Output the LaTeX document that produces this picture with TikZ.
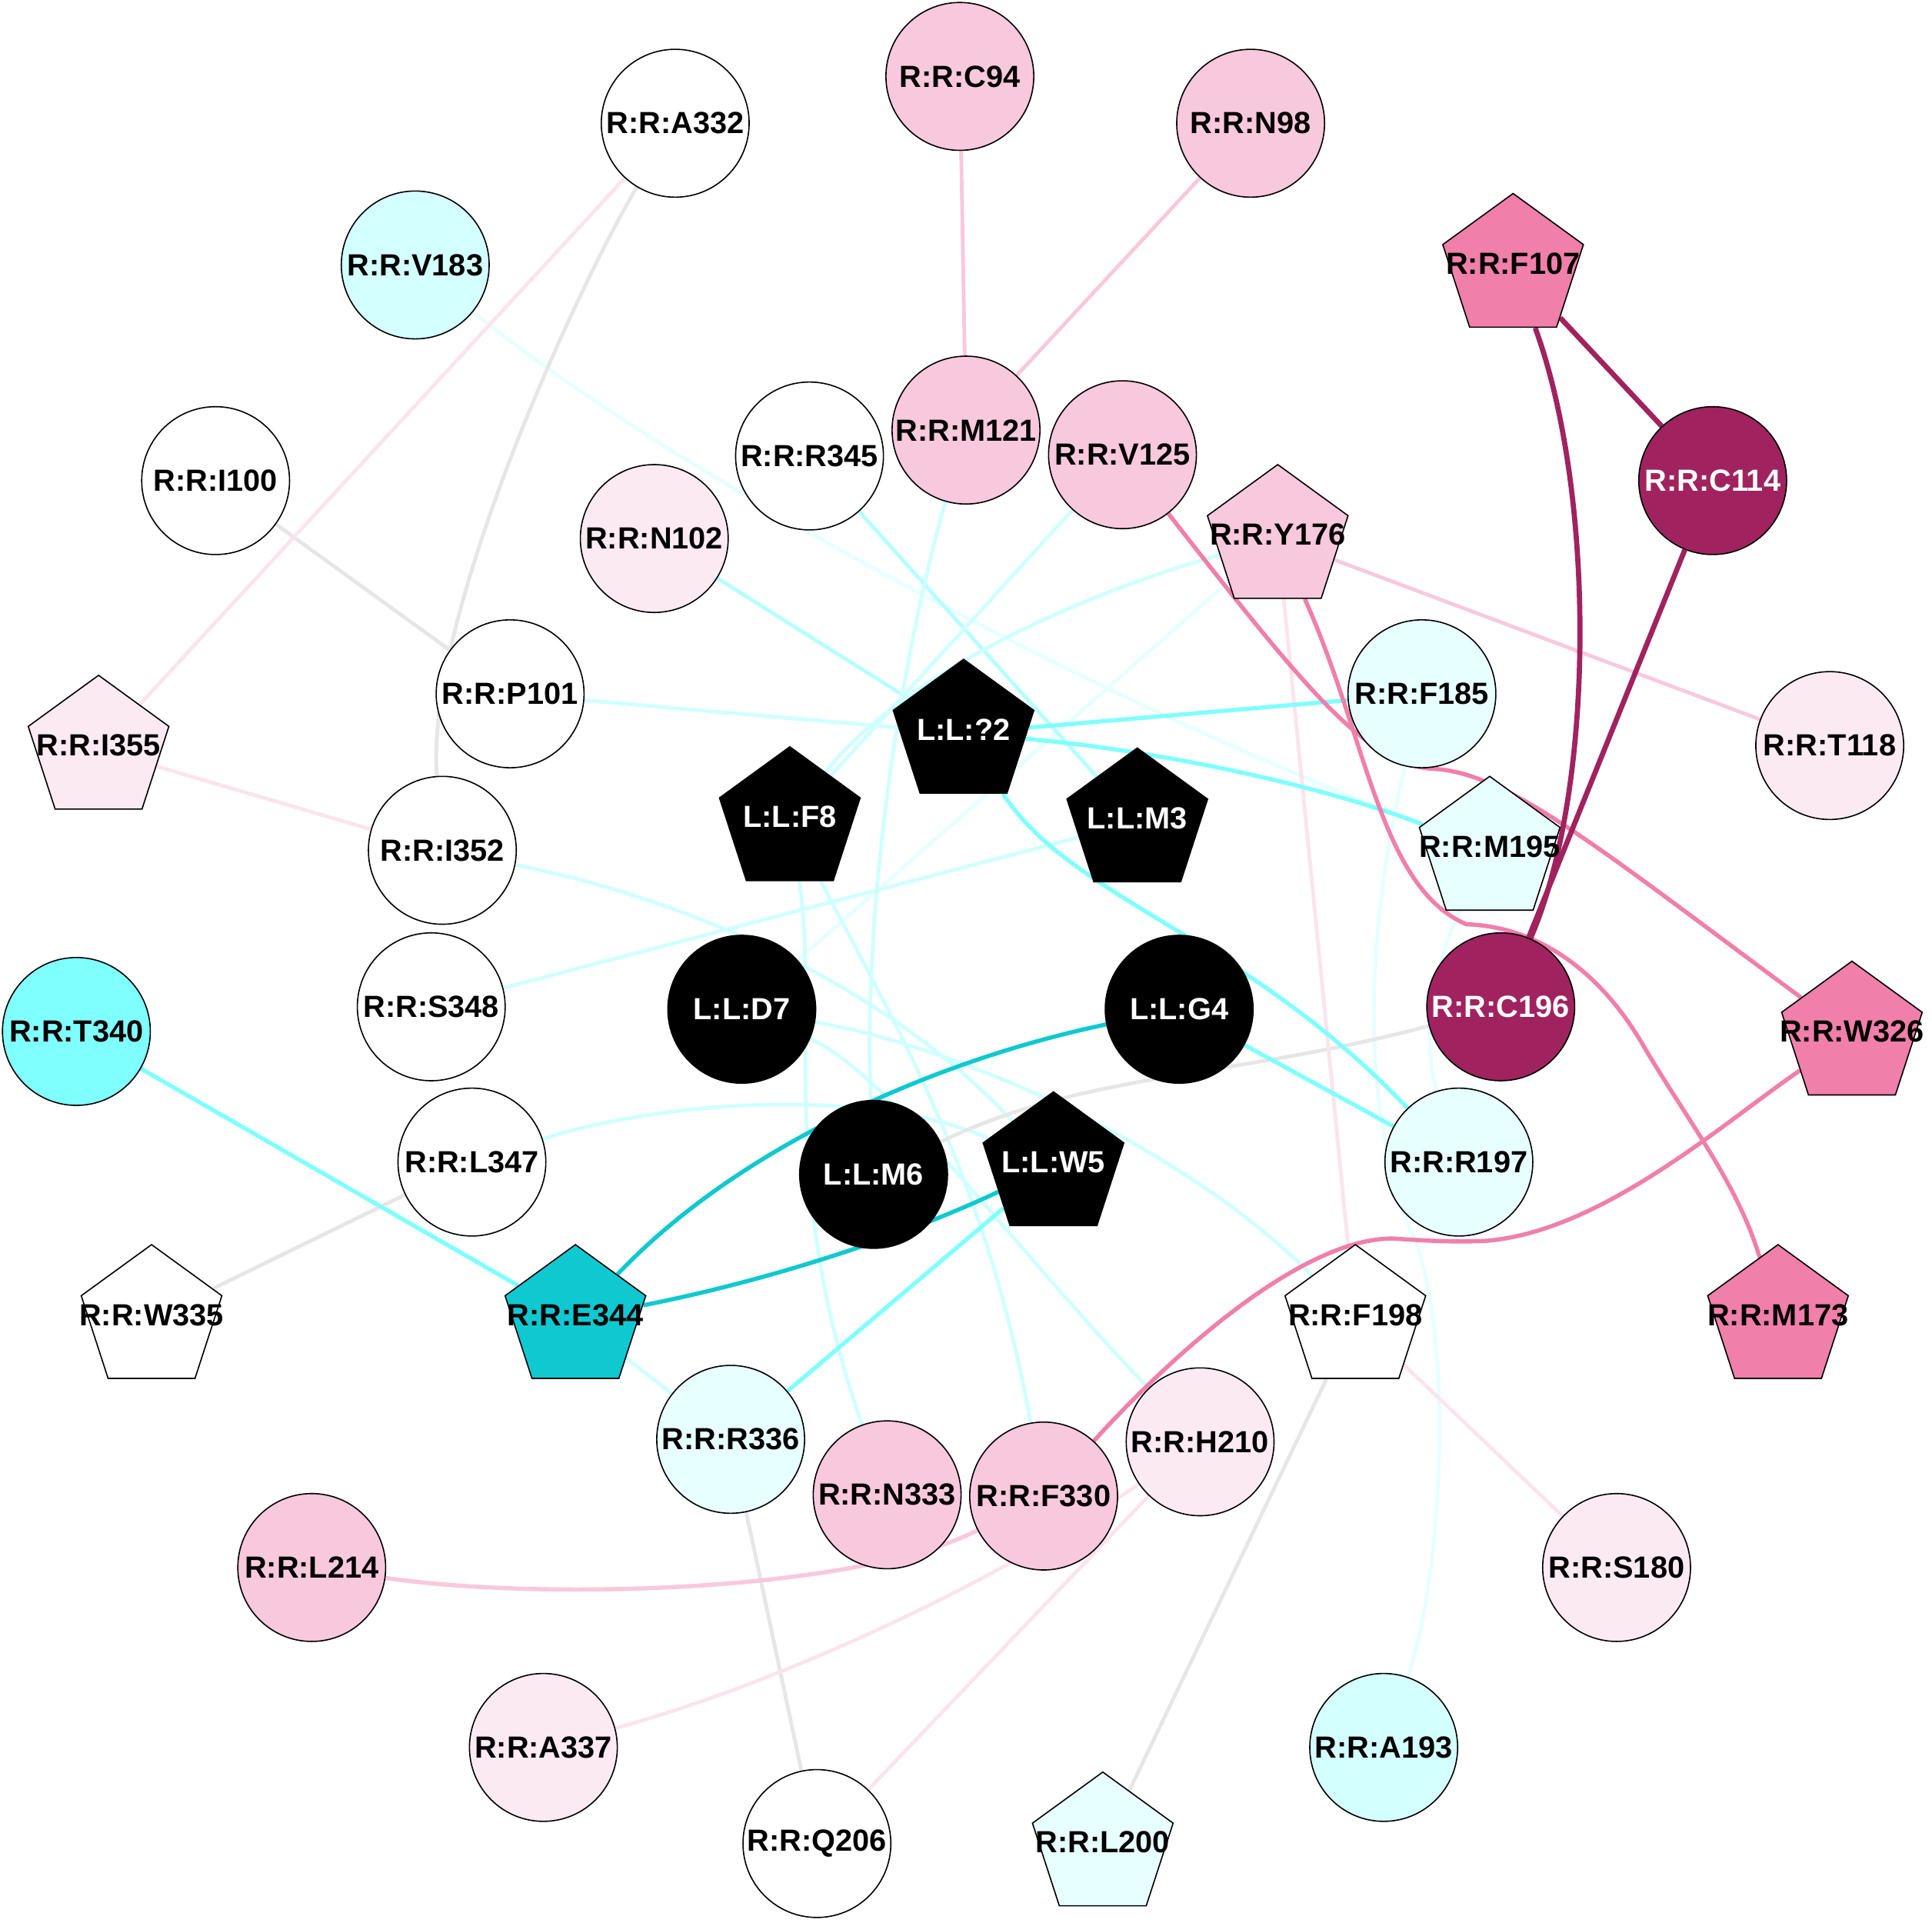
\documentclass[tikz,border=0pt]{standalone}
\usepackage{fontspec}
\setmainfont{Liberation Sans}
\usetikzlibrary{shapes.geometric}
\pgfdeclarelayer{back}
\pgfdeclarelayer{bg}
\pgfsetlayers{back,bg,main}
\definecolor{cPk}{HTML}{F8C8DC}
\definecolor{cVp}{HTML}{FBEAF2}
\definecolor{cHp}{HTML}{F07FAA}
\definecolor{cDm}{HTML}{A0235F}
\definecolor{cLc}{HTML}{D4FFFF}
\definecolor{cVc}{HTML}{E8FFFF}
\definecolor{cCy}{HTML}{80FFFF}
\definecolor{cDc}{HTML}{10C8D0}
\definecolor{cGy}{HTML}{E6E6E6}
\definecolor{ePl}{HTML}{FBE4EE}
\definecolor{eLc}{HTML}{D0FFFF}
\definecolor{eMc}{HTML}{B4FFFF}
\definecolor{eVc}{HTML}{E6FFFF}
\newcommand{\Cn}[5]{\node[nd,fill=#4] (#1) at (#3) {};\node[lbl,#5] (#1t) at (#1.center) {#2};}
\newcommand{\Pn}[5]{\node[pent,fill=#4] (#1) at (#3) {};\node[lbl,#5] (#1t) at ([yshift=1.5pt]#1.center) {#2};}
\begin{document}
\begin{tikzpicture}[x=0.5pt,y=-0.5pt,
  nd/.style={circle,draw=black,line width=0.5pt,minimum size=60pt,inner sep=0pt},
  pent/.style={regular polygon,regular polygon sides=5,draw=black,line width=0.5pt,minimum size=60pt,inner sep=0pt},
  lbl/.style={font=\fontsize{12.4pt}{14pt}\selectfont\bfseries,text=black,inner sep=0pt},
  wt/.style={text=white},
  e/.style={line width=1.5pt},
  es/.style={line width=1.7pt},
  e2/.style={line width=2.1pt}]
\useasboundingbox (0,0) rectangle (1568,1560);
\begin{pgfonlayer}{back}
\fill[white] (0,0) rectangle (1568,1560);
\end{pgfonlayer}
% nodes
\Cn{A332}{R:R:A332}{548,100}{white}{}
\Cn{C94}{R:R:C94}{779,62}{cPk}{}
\Cn{N98}{R:R:N98}{1015,100}{cPk}{}
\Cn{V183}{R:R:V183}{337,215}{cLc}{}
\Pn{F107}{R:R:F107}{1228,217}{cHp}{}
\Cn{I100}{R:R:I100}{175,390}{white}{}
\Cn{R345}{R:R:R345}{657,370}{white}{}
\Cn{M121}{R:R:M121}{784,349}{cPk}{}
\Cn{V125}{R:R:V125}{911,369}{cPk}{}
\Cn{C114}{R:R:C114}{1390,390}{cDm}{wt}
\Cn{N102}{R:R:N102}{531,437}{cVp}{}
\Pn{Y176}{R:R:Y176}{1037,437}{cPk}{}
\Cn{P101}{R:R:P101}{414,563}{white}{}
\Cn{F185}{R:R:F185}{1154,563}{cVc}{}
\Cn{T118}{R:R:T118}{1485,605}{cVp}{}
\Pn{I355}{R:R:I355}{80,608}{cVp}{}
\Pn{Q2}{L:L:?2}{782,595}{black}{wt}
\Pn{F8}{L:L:F8}{641,666}{black}{wt}
\Pn{M3}{L:L:M3}{923,667}{black}{wt}
\Cn{I352}{R:R:I352}{359,690}{white}{}
\Pn{M195}{R:R:M195}{1209,690}{cVc}{}
\Cn{S348}{R:R:S348}{350,817}{white}{}
\Cn{D7}{L:L:D7}{602,819}{black}{wt}
\Cn{G4}{L:L:G4}{957,819}{black}{wt}
\Cn{C196}{R:R:C196}{1218,817}{cDm}{wt}
\Pn{W326}{R:R:W326}{1503,840}{cHp}{}
\Cn{T340}{R:R:T340}{62,837}{cCy}{}
\Cn{L347}{R:R:L347}{383,943}{white}{}
\Cn{M6}{L:L:M6}{709,953}{black}{wt}
\Pn{W5}{L:L:W5}{855,946}{black}{wt}
\Cn{R197}{R:R:R197}{1184,943}{cVc}{}
\Pn{W335}{R:R:W335}{123,1070}{white}{}
\Pn{E344}{R:R:E344}{467,1070}{cDc}{}
\Pn{F198}{R:R:F198}{1100,1070}{white}{}
\Pn{M173}{R:R:M173}{1443,1070}{cHp}{}
\Cn{R336}{R:R:R336}{593,1168}{cVc}{}
\Cn{N333}{R:R:N333}{720,1213}{cPk}{}
\Cn{F330}{R:R:F330}{847,1214}{cPk}{}
\Cn{H210}{R:R:H210}{974,1170}{cVp}{}
\Cn{L214}{R:R:L214}{253,1272}{cPk}{}
\Cn{S180}{R:R:S180}{1312,1272}{cVp}{}
\Cn{A337}{R:R:A337}{441,1418}{cVp}{}
\Cn{Q206}{R:R:Q206}{663,1496}{white}{}
\Pn{L200}{R:R:L200}{895,1498}{cVc}{}
\Cn{A193}{R:R:A193}{1123,1418}{cLc}{}
% edges
\begin{pgfonlayer}{bg}
% very light cyan
\draw[e,eVc] (V183) .. controls (540,380) and (880,565) .. (M195);
\draw[e,eVc] (F185) .. controls (1110,750) and (1100,900) .. (1150,1010) .. controls (1180,1100) and (1170,1280) .. (A193);
\draw[e,eVc] (M195) .. controls (1160,790) and (1155,850) .. (R197);
\draw[e,eVc] (Y176) -- (D7);
% light cyan
\draw[e,eMc] (N102) -- (Q2);
\draw[e,eLc] (P101) -- (Q2);
\draw[e,eMc] (R345) -- (M3);
\draw[e,eLc] (S348) -- (M3);
\draw[e,eLc] (M121) .. controls (735,520) and (700,720) .. (M6);
\draw[e,eLc] (V125) -- (F8);
\draw[e,eLc] (Y176) .. controls (850,490) and (720,560) .. (F8);
\draw[e,eLc] (I352) .. controls (560,730) and (720,800) .. (W5);
\draw[e,eLc] (L347) .. controls (530,895) and (700,880) .. (W5);
\draw[e,eLc] (D7) .. controls (780,850) and (960,930) .. (F198);
\draw[e,eLc] (D7) .. controls (720,870) and (820,1010) .. (H210);
\draw[e,eLc] (F8) .. controls (665,820) and (630,960) .. (N333);
\draw[e,eLc] (F8) .. controls (720,820) and (800,950) .. (F330);
\draw[e,eLc] (E344) -- (R336);
% gray
\draw[e,cGy] (A332) .. controls (470,230) and (345,500) .. (I352);
\draw[e,cGy] (I100) -- (P101);
\draw[e,cGy] (L347) -- (W335);
\draw[e,cGy] (R336) -- (Q206);
\draw[e,cGy] (F198) -- (L200);
\draw[e,cGy] (C196) .. controls (1000,875) and (880,870) .. (M6);
% light pink
\draw[e,ePl] (A332) -- (I355);
\draw[e,ePl] (I355) -- (I352);
\draw[e,ePl] (Y176) -- (F198);
\draw[e,ePl] (F198) -- (S180);
\draw[e,ePl] (A337) .. controls (620,1370) and (800,1290) .. (H210);
\draw[e,ePl] (Q206) -- (H210);
% pink
\draw[e,cPk] (C94) -- (M121);
\draw[e,cPk] (N98) -- (M121);
\draw[e,cPk] (Y176) -- (T118);
\draw[es,cPk] (L214) .. controls (450,1300) and (700,1290) .. (F330);
% strong cyan
\draw[es,cCy] (F185) -- (Q2);
\draw[es,cCy] (Q2) .. controls (950,610) and (1080,640) .. (M195);
\draw[es,cCy] (Q2) .. controls (870,730) and (1010,760) .. (R197);
\draw[es,cCy] (G4) -- (R197);
\draw[es,cCy] (W5) -- (R336);
\draw[es,cCy] (T340) -- (E344);
\draw[es,cDc] (G4) .. controls (760,860) and (600,930) .. (E344);
\draw[es,cDc] (W5) .. controls (730,1005) and (620,1040) .. (E344);
% hot pink
\draw[es,cHp] (V125) .. controls (1060,560) and (1110,622) .. (1165,624) .. controls (1225,628) and (1300,690) .. (W326);
\draw[es,cHp] (Y176) .. controls (1110,600) and (1120,720) .. (1190,750) .. controls (1250,752) and (1300,790) .. (1334,849) .. controls (1370,910) and (1410,960) .. (M173);
\draw[es,cHp] (F330) .. controls (960,1090) and (1060,1005) .. (1130,1005) .. controls (1160,1007) and (1180,1008) .. (1205,1007) .. controls (1300,1000) and (1400,910) .. (W326);
% dark magenta
\draw[e2,cDm] (F107) -- (C114);
\draw[e2,cDm] (F107) .. controls (1295,400) and (1295,640) .. (C196);
\draw[e2,cDm] (C114) -- (C196);
\end{pgfonlayer}
\end{tikzpicture}
\end{document}
